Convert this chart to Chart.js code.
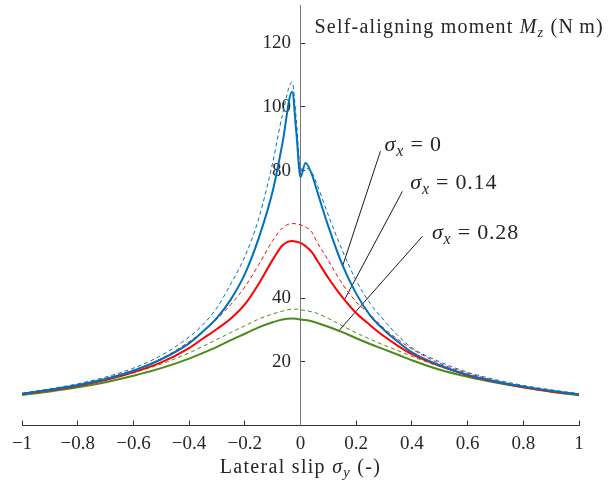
<!DOCTYPE html>
<html><head><meta charset="utf-8">
<script src="https://cdn.jsdelivr.net/npm/chart.js@4/dist/chart.umd.min.js"></script>
<style>html,body{margin:0;padding:0;background:#fff;}</style>
</head><body>
<canvas id="c" width="610" height="489"></canvas>
<script>
// ---- data ----
const slip = [-1,-0.9,-0.8,-0.7,-0.6,-0.5,-0.4,-0.35,-0.3,-0.25,-0.2,-0.15,-0.1,-0.065,-0.03,-0.015,0,0.018,0.04,0.06,0.1,0.15,0.2,0.25,0.3,0.35,0.4,0.5,0.6,0.7,0.8,0.9,1];
const mzSx0 =      [10.0,11.2,12.7,14.6,17.2,20.8,25.8,29.5,33.8,39.6,47.5,58.8,73.5,88.5,104.8,92.0,78.0,82.4,79.0,73.5,62.5,50.5,41.4,34.6,30.0,26.3,23.0,18.9,15.9,13.8,12.2,10.9,9.8];
const mzSx0Ref =   [10.1,11.5,13.1,15.2,18.0,22.0,27.8,31.7,37.0,44.5,53.0,65.0,82.5,97.5,107.8,96.0,80.5,80.8,79.5,75.5,66.0,55.0,45.5,38.3,33.0,28.2,24.4,20.0,16.7,14.4,12.6,11.2,10.0];
const mzSx014 =    [9.9,11.1,12.5,14.3,16.7,19.8,24.3,27.3,30.3,33.6,38.0,44.5,52.0,56.5,57.9,57.7,57.3,56.3,54.5,51.8,46.3,40.3,35.3,31.5,28.0,25.0,22.4,18.7,15.8,13.7,12.0,10.7,9.7];
const mzSx014Ref = [10.0,11.3,12.8,14.8,17.4,21.0,26.3,29.5,33.5,38.0,43.5,50.5,58.0,62.0,63.4,63.3,63.0,62.3,60.8,57.5,51.8,44.5,38.8,34.8,30.5,27.0,24.0,19.5,16.4,14.1,12.3,10.9,9.8];
const mzSx028 =    [9.6,10.7,12.0,13.6,15.6,18.0,21.0,22.8,24.7,26.8,28.8,30.8,32.4,33.3,33.6,33.5,33.3,33.1,32.7,32.2,31.0,29.3,27.4,25.6,23.9,22.2,20.5,17.5,15.3,13.5,12.0,10.6,9.5];
const mzSx028Ref = [9.8,11.0,12.5,14.3,16.6,19.3,22.8,24.9,27.0,29.2,31.3,33.4,35.0,35.9,36.5,36.5,36.3,36.1,35.7,35.2,33.6,31.3,29.1,27.1,25.2,23.5,21.7,18.5,16.0,14.0,12.3,10.9,9.6];
const xTickValues = [-1,-0.8,-0.6,-0.4,-0.2,0,0.2,0.4,0.6,0.8,1];
const yTickValues = [20,40,80,100,120];
const labelTexts = ['0','0.14','0.28'];
// leader lines (slip, Mz) pairs
const leader0X = [0.287, 0.151], leader0Y = [86.1, 50.0];
const leader1X = [0.366, 0.158], leader1Y = [73.5, 39.5];
const leader2X = [0.438, 0.136], leader2Y = [59.4, 29.6];
// label anchors (slip, Mz) at text baseline-left
const labelAnchorX = [0.302, 0.394, 0.472];
const labelAnchorY = [86.1, 74.2, 58.4];

const FONT = '"Liberation Serif", "Times New Roman", serif';
const TXT = '#262626';
const pts = arr => slip.map((x,i)=>({x, y: arr[i]}));
const seg = (xs, ys) => xs.map((x,i)=>({x, y: ys[i]}));

function curve(arr, color, dashed){
  return {data: pts(arr), borderColor: color, borderWidth: dashed?1:2,
    borderDash: dashed?[4,3]:[], cubicInterpolationMode:'monotone', pointRadius:0, fill:false};
}
function leader(xs, ys){
  return {data: seg(xs, ys), borderColor:'#000', borderWidth:0.9, pointRadius:0, tension:0, fill:false};
}
const BLUE = '#0072BD', RED = '#FF0000', GREEN = '#4C8A19';

function setF(ctx, p, size){
  const fs = p.sub ? size*0.72 : size;
  ctx.font = (p.italic?'italic ':'') + fs + 'px ' + FONT;
}
function drawRich(ctx, x, y, parts, size, ls){
  let cx = x;
  ctx.letterSpacing = (ls||0) + 'px';
  for (const p of parts){
    setF(ctx, p, size);
    ctx.fillText(p.t, cx, y + (p.sub ? size*0.2 : 0));
    cx += ctx.measureText(p.t).width;
  }
  ctx.letterSpacing = '0px';
  return cx - x;
}
function richWidth(ctx, parts, size, ls){
  let w = 0;
  ctx.letterSpacing = (ls||0) + 'px';
  for (const p of parts){ setF(ctx, p, size); w += ctx.measureText(p.t).width; }
  ctx.letterSpacing = '0px';
  return w;
}

const textPlugin = {
  id:'texts',
  afterDraw(chart){
    const ctx = chart.ctx, xs = chart.scales.x, ys = chart.scales.y;
    ctx.save();
    ctx.fillStyle = TXT;
    ctx.textBaseline = 'alphabetic';
    ctx.textAlign = 'left';
    const x0 = xs.getPixelForValue(0);
    // y title
    drawRich(ctx, x0 + 14, chart.chartArea.top + 28, [
      {t:'Self-aligning moment '},{t:'M', italic:true},{t:'z', italic:true, sub:true},{t:' (N\u2009m)'}], 20, 1.2);
    // x title
    const xt = [{t:'Lateral slip '},{t:'\u03C3', italic:true},{t:'y', italic:true, sub:true},{t:' (-)'}];
    const w = richWidth(ctx, xt, 20, 1.3);
    drawRich(ctx, x0 - w/2, chart.chartArea.bottom + 47, xt, 20, 1.3);
    // annotation labels
    for (let i=0;i<labelTexts.length;i++){
      drawRich(ctx, xs.getPixelForValue(labelAnchorX[i]), ys.getPixelForValue(labelAnchorY[i]), [
        {t:'\u03C3', italic:true},{t:'x', italic:true, sub:true},{t:' = ' + labelTexts[i]}], 22, 0.8);
    }
    ctx.restore();
  }
};

const fmtX = v => v === 0 ? '0' : (v < 0 ? '\u2212' : '') + String(Math.abs(v));

new Chart(document.getElementById('c'), {
  type:'line',
  data:{ datasets:[
    curve(mzSx0, BLUE, false),
    curve(mzSx014, RED, false),
    curve(mzSx028, GREEN, false),
    curve(mzSx0Ref, BLUE, true),
    curve(mzSx014Ref, RED, true),
    curve(mzSx028Ref, GREEN, true),
    leader(leader0X, leader0Y),
    leader(leader1X, leader1Y),
    leader(leader2X, leader2Y)
  ]},
  options:{
    responsive:false, animation:false, devicePixelRatio:1,
    layout:{ padding:{ left:22, right:31, top:5, bottom:0 } },
    plugins:{ legend:{display:false}, tooltip:{enabled:false} },
    scales:{
      x:{ type:'linear', min:-1, max:1, position:'bottom',
        afterBuildTicks: s => { s.ticks = xTickValues.map(v=>({value:v})); },
        afterFit: s => { s.height = 63.5; s.paddingLeft = 0; s.paddingRight = 0; },
        grid:{ drawOnChartArea:false, drawTicks:true, tickLength:-5, color:'#333', tickWidth:1 },
        border:{ display:true, color:'#333', width:1 },
        ticks:{ font:{family:FONT, size:19}, color:TXT, padding:12, maxRotation:0, autoSkip:false, callback: v => fmtX(v) }
      },
      y:{ type:'linear', min:0, max:132, position:{x:0},
        afterBuildTicks: s => { s.ticks = yTickValues.map(v=>({value:v})); },
        afterFit: s => { s.paddingTop = 0; s.paddingBottom = 0; },
        grid:{ drawOnChartArea:false, drawTicks:true, tickLength:-5, color:'#333', tickWidth:1 },
        border:{ display:true, color:'#777', width:1 },
        ticks:{ font:{family:FONT, size:19}, color:TXT, padding:14, autoSkip:false, callback: v => String(v) + '\u2002' }
      }
    }
  },
  plugins:[textPlugin]
});
</script>
</body></html>
